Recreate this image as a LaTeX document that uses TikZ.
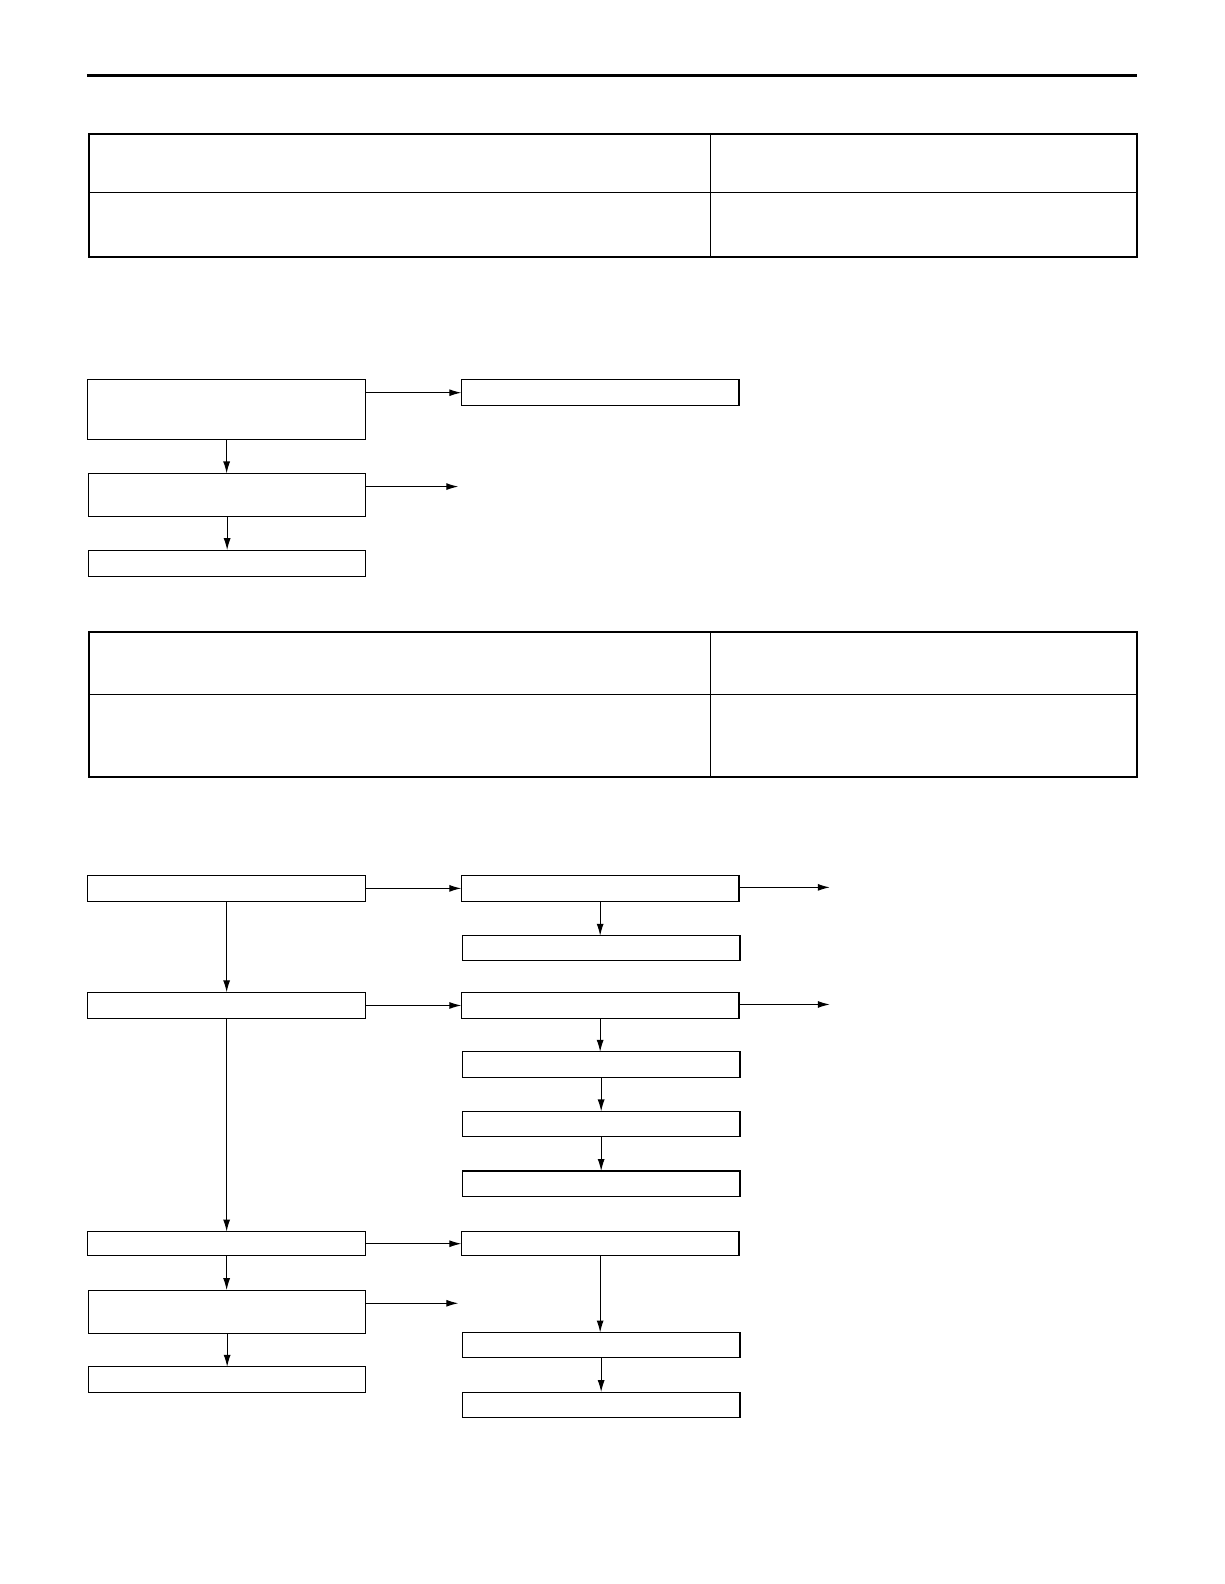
\documentclass[tikz,border=0pt]{standalone}
\usetikzlibrary{arrows.meta}
\begin{document}
\begin{tikzpicture}[x=1.0095pt,y=-1.0095pt,
  box/.style 2 args={draw,line width=1.1pt,inner sep=0pt,outer sep=0pt,anchor=north west,minimum width=#1*1.0095pt,minimum height=#2*1.0095pt},
  arr/.style={line width=1.1pt,-{Latex[length=12pt,width=7pt]}},
  rulel/.style={line width=3pt},
  outerl/.style={line width=2pt},
  innerl/.style={line width=1.1pt}]
\useasboundingbox (0pt,0pt) rectangle (1224pt,-1584pt);
% top rule
\draw[rulel] (86,75) -- (1126,75);
% table 1
\draw[innerl] (88,191) -- (1126,191);
\draw[innerl] (704,133) -- (704,255);
\draw[outerl] (88,133) rectangle (1126,255);
% table 2
\draw[innerl] (88,688) -- (1126,688);
\draw[innerl] (704,626) -- (704,770);
\draw[outerl] (88,626) rectangle (1126,770);
% flowchart 1
\node[box={275}{59}] (A) at (87,376) {};
\node[box={275}{26}] (B) at (457,376) {};
\node[box={274}{43}] (C) at (88,469) {};
\node[box={274}{26}] (D) at (88,545) {};
\coordinate (c1) at (454,482);
\draw[arr] (A.east |- B.west) -- (B.west);
\draw[arr] (A.south) -- (A.south |- C.north);
\draw[arr] (C.east |- c1) -- (c1);
\draw[arr] (C.south) -- (C.south |- D.north);
% flowchart 2
\node[box={275}{26}] (L1) at (87,867) {};
\node[box={275}{26}] (L2) at (87,983) {};
\node[box={275}{24}] (L3) at (87,1220) {};
\node[box={274}{43}] (L4) at (88,1278) {};
\node[box={274}{25}] (L5) at (88,1354) {};
\node[box={275}{26}] (R1) at (457,867) {};
\node[box={275}{24}] (R1b) at (458,927) {};
\node[box={275}{26}] (R2) at (457,983) {};
\node[box={275}{25}] (R3) at (458,1042) {};
\node[box={275}{25}] (R4) at (458,1101) {};
\node[box={275}{25}] (R5) at (458,1160) {};
\node[box={275}{24}] (R6) at (457,1220) {};
\node[box={275}{25}] (R7) at (458,1320) {};
\node[box={275}{25}] (R8) at (458,1379) {};
\coordinate (e1) at (822,879);
\coordinate (e2) at (822,995);
\coordinate (e3) at (454,1291);
\draw[arr] (L1.east) -- (L1.east -| R1.west);
\draw[arr] (L2.east) -- (L2.east -| R2.west);
\draw[arr] (L3.east) -- (L3.east -| R6.west);
\draw[arr] (L4.east |- e3) -- (e3);
\draw[arr] (R1.east |- e1) -- (e1);
\draw[arr] (R2.east |- e2) -- (e2);
\draw[arr] (L1.south) -- (L1.south |- L2.north);
\draw[arr] (L2.south) -- (L2.south |- L3.north);
\draw[arr] (L3.south) -- (L3.south |- L4.north);
\draw[arr] (L4.south) -- (L4.south |- L5.north);
\draw[arr] (R1.south) -- (R1.south |- R1b.north);
\draw[arr] (R2.south) -- (R2.south |- R3.north);
\draw[arr] (R3.south) -- (R3.south |- R4.north);
\draw[arr] (R4.south) -- (R4.south |- R5.north);
\draw[arr] (R6.south) -- (R6.south |- R7.north);
\draw[arr] (R7.south) -- (R7.south |- R8.north);
\end{tikzpicture}
\end{document}
